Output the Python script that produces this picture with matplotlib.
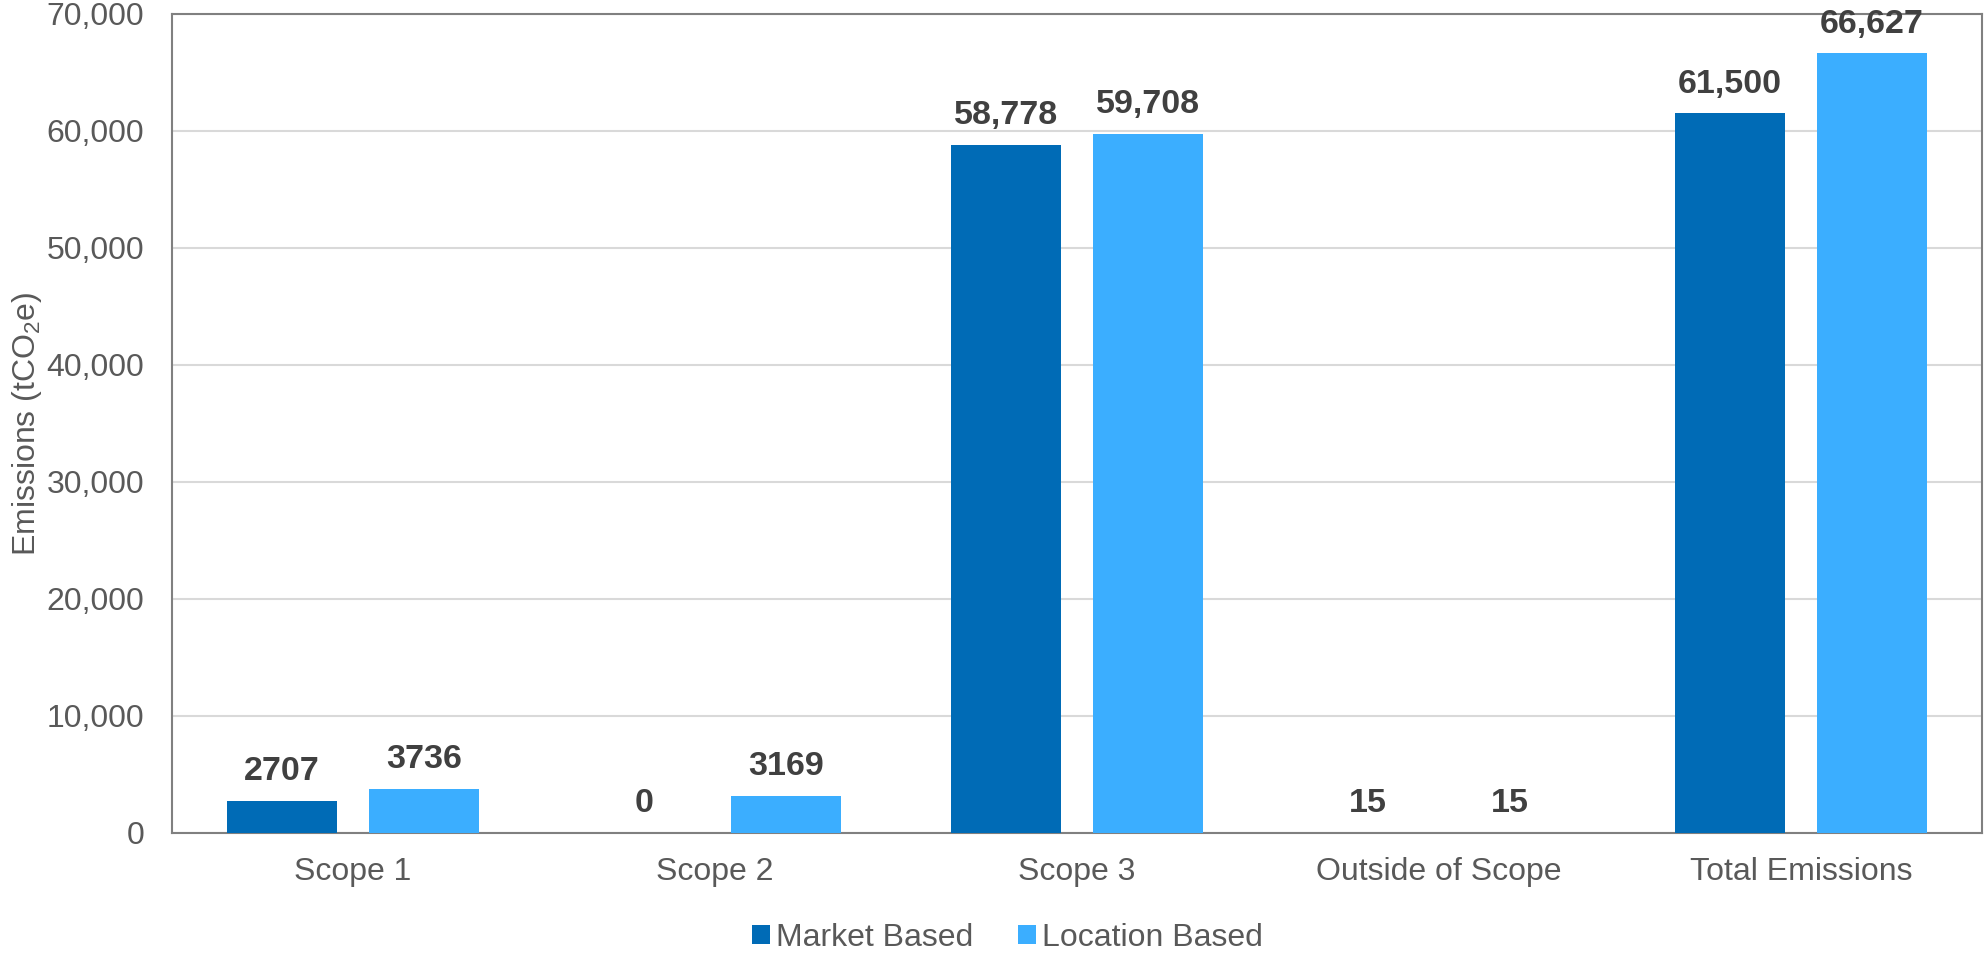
import numpy as np
import matplotlib.pyplot as plt

plt.rcParams['font.family'] = ['Liberation Sans', 'DejaVu Sans']
plt.rcParams['mathtext.fontset'] = 'custom'
plt.rcParams['mathtext.rm'] = 'Liberation Sans'
plt.rcParams['mathtext.it'] = 'Liberation Sans'

categories = ['Scope 1', 'Scope 2', 'Scope 3', 'Outside of Scope', 'Total Emissions']
market = [2707, 0, 58778, 15, 61500]
location = [3736, 3169, 59708, 15, 66627]
market_lbl = ['2707', '0', '58,778', '15', '61,500']
location_lbl = ['3736', '3169', '59,708', '15', '66,627']

c_market = '#006BB6'
c_location = '#3BAEFF'
txt = '#595959'

fig = plt.figure(figsize=(19.84, 9.57), dpi=100)
ax = fig.add_axes([0.0867, 0.1296, 0.9123, 0.8558])

x = np.arange(len(categories))
w = 0.304
off = 0.196
b1 = ax.bar(x - off, market, w, color=c_market, label='Market Based', zorder=3)
b2 = ax.bar(x + off, location, w, color=c_location, label='Location Based', zorder=3)

for bars, labels in ((b1, market_lbl), (b2, location_lbl)):
    for b, l in zip(bars, labels):
        ax.annotate(l, (b.get_x() + b.get_width() / 2, b.get_height()),
                    xytext=(0, 10), textcoords='offset points',
                    ha='center', va='bottom', fontsize=24.5, fontweight='bold',
                    color='#404040')

ax.set_xlim(-0.5, len(categories) - 0.5)
ax.set_ylim(0, 70000)
ax.set_yticks(np.arange(0, 70001, 10000))
ax.set_yticklabels(['{:,}'.format(v) for v in range(0, 70001, 10000)])
ax.set_xticks(x)
ax.set_xticklabels(categories)
ax.tick_params(axis='y', length=0, pad=20, labelsize=23, labelcolor=txt)
ax.tick_params(axis='x', length=0, pad=17, labelsize=23, labelcolor=txt)
ax.grid(axis='y', color='#D9D9D9', linewidth=1.5, zorder=0)
for s in ax.spines.values():
    s.set_color('#808080')
    s.set_linewidth(1.5)

ax.set_ylabel('Emissions (tCO$_2$e)', fontsize=23, color=txt)
ax.yaxis.set_label_coords(-0.071, 0.5)

fig.legend(handles=[b1, b2], loc='center', bbox_to_anchor=(0.508, 0.02), ncol=2,
           frameon=False, fontsize=23, labelcolor=txt, handlelength=0.55,
           handleheight=0.55, handletextpad=0.2, columnspacing=1.4,
           borderpad=0, borderaxespad=0)

fig.savefig('out.png', dpi=100)
